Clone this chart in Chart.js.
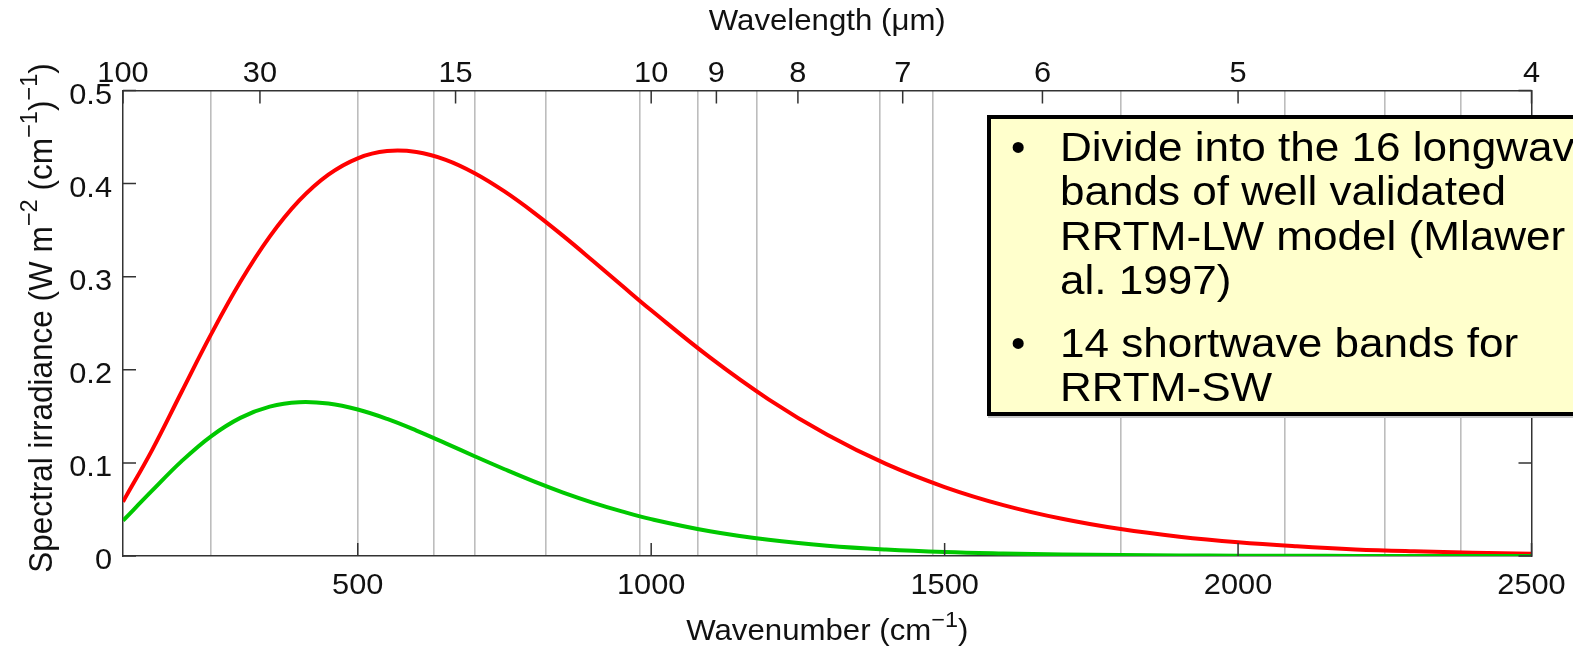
<!DOCTYPE html>
<html>
<head>
<meta charset="utf-8">
<title>Planck emission and RRTM longwave bands</title>
<script src="https://cdn.jsdelivr.net/npm/chart.js@4.4.1/dist/chart.umd.min.js"></script>
<style>
  html, body { margin: 0; padding: 0; background: #fff; overflow: hidden; }
  #wrap { position: relative; width: 1573px; height: 653px; overflow: hidden; }
  #plot { position: absolute; left: 0; top: 0; }
  #note {
    position: absolute; left: 987px; top: 115px; width: 660px; height: 301px;
    box-sizing: border-box; border: 4px solid #000; background: #ffffcc;
    box-shadow: 1px 2px 0 #c8c8c8;
    font-family: "Liberation Sans", Arial, Helvetica, sans-serif;
    font-size: 41px; line-height: 44.5px; color: #000; white-space: nowrap;
  }
  #note .item { position: absolute; left: 0; }
  #note .bullet { position: absolute; left: 20px; top: 0; }
  #note .txt { position: absolute; left: 69px; top: 0; transform: scaleX(1.075); transform-origin: 0 0; }
</style>
</head>
<body>
<div id="wrap">
  <canvas id="plot" width="1573" height="653"></canvas>
  <div id="note">
    <div class="item" style="top:5.5px">
      <span class="bullet">•</span>
      <div class="txt">Divide into the 16 longwave<br>bands of well validated<br>RRTM-LW model (Mlawer et<br>al. 1997)</div>
    </div>
    <div class="item" style="top:201.5px">
      <span class="bullet">•</span>
      <div class="txt">14 shortwave bands for<br>RRTM-SW</div>
    </div>
  </div>
</div>
<script>
// Wavenumber samples (cm^-1) and spectral irradiance (W m^-2 (cm^-1)^-1)
const wavenumber = [100, 150, 200, 250, 300, 350, 400, 450, 500, 550, 600, 650, 700, 750, 800, 850, 900, 950, 1000,
                    1100, 1200, 1300, 1400, 1500, 1600, 1700, 1800, 1900, 2000, 2100, 2200, 2300, 2400, 2500];
const emissionWarm = [0.0583, 0.1143, 0.1764, 0.2380, 0.2945, 0.3430, 0.3816, 0.4096, 0.4272, 0.4349, 0.4339, 0.4255,
                      0.4109, 0.3916, 0.3689, 0.3438, 0.3174, 0.2905, 0.2639,
                      0.2133, 0.1683, 0.1302, 0.0989, 0.0741, 0.0547, 0.0400, 0.0289, 0.0207, 0.0147, 0.0104,
                      0.0071, 0.0050, 0.0035, 0.0024];
const emissionCold = [0.0380, 0.0704, 0.1019, 0.1286, 0.1484, 0.1604, 0.1652, 0.1637, 0.1573, 0.1472, 0.1347, 0.1210,
                      0.1069, 0.0932, 0.0801, 0.0681, 0.0574, 0.0479, 0.0396,
                      0.0266, 0.0174, 0.0111, 0.0070, 0.0043, 0.0027, 0.0016, 0.0010, 0.0006, 0.0003, 0.0002,
                      0.0001, 0.0001, 0.0000, 0.0000];

// Axis ticks
const wavenumberTicks = [500, 1000, 1500, 2000, 2500];
const wavelengthTicks = [100, 30, 15, 10, 9, 8, 7, 6, 5, 4];   // micrometres, top axis
const irradianceTicks = [0, 0.1, 0.2, 0.3, 0.4, 0.5];
// RRTM-LW band boundaries inside the plotted range (cm^-1)
const bandEdges = [250, 500, 630, 700, 820, 980, 1080, 1180, 1390, 1480, 1800, 2080, 2250, 2380];

const FONT = '"Liberation Sans", Arial, Helvetica, sans-serif';
const AXIS = '#333333';
const TEXT = '#111111';
const SX = 1.06;          // slight horizontal widening of axis lettering
const TICK_LEN = 13;

function setTicks(values) {
  return scale => { scale.ticks = values.map(v => ({ value: v })); };
}

// Draw a run of text pieces, some raised as superscripts, centred on (0, 0) baseline
function drawRich(ctx, parts, size) {
  const supSize = size * 0.75;
  const widths = parts.map(([t, sup]) => {
    ctx.font = (sup ? supSize : size) + 'px ' + FONT;
    return ctx.measureText(t).width;
  });
  const total = widths.reduce((a, b) => a + b, 0);
  let x = -total / 2;
  ctx.textAlign = 'left';
  ctx.textBaseline = 'alphabetic';
  parts.forEach(([t, sup], i) => {
    ctx.font = (sup ? supSize : size) + 'px ' + FONT;
    ctx.fillText(t, x, sup ? -size * 0.45 : 0);
    x += widths[i];
  });
}

function stretchedLabel(ctx, text, x, y, align) {
  ctx.save();
  ctx.translate(x, y);
  ctx.scale(SX, 1);
  ctx.textAlign = align;
  ctx.textBaseline = 'alphabetic';
  ctx.fillText(text, 0, 0);
  ctx.restore();
}

const axisDecor = {
  id: 'axisDecor',
  afterDraw(chart) {
    const { ctx, chartArea: a, scales } = chart;
    ctx.save();

    // inward tick marks
    ctx.strokeStyle = AXIS;
    ctx.lineWidth = 1.5;
    ctx.beginPath();
    scales.x.ticks.forEach(t => {
      const px = scales.x.getPixelForValue(t.value);
      ctx.moveTo(px, a.bottom); ctx.lineTo(px, a.bottom - TICK_LEN);
    });
    scales.xTop.ticks.forEach(t => {
      const px = scales.xTop.getPixelForValue(t.value);
      ctx.moveTo(px, a.top); ctx.lineTo(px, a.top + TICK_LEN);
    });
    scales.y.ticks.forEach(t => {
      const py = scales.y.getPixelForValue(t.value);
      ctx.moveTo(a.left, py); ctx.lineTo(a.left + TICK_LEN, py);
      ctx.moveTo(a.right, py); ctx.lineTo(a.right - TICK_LEN, py);
    });
    ctx.stroke();

    // tick labels
    ctx.fillStyle = TEXT;
    ctx.font = '29px ' + FONT;
    scales.x.ticks.forEach(t => {
      stretchedLabel(ctx, t.label, scales.x.getPixelForValue(t.value), a.bottom + 37.5, 'center');
    });
    scales.xTop.ticks.forEach(t => {
      stretchedLabel(ctx, t.label, scales.xTop.getPixelForValue(t.value), a.top - 8.5, 'center');
    });
    scales.y.ticks.forEach(t => {
      stretchedLabel(ctx, t.label, a.left - 11, scales.y.getPixelForValue(t.value) + 13, 'right');
    });

    // axis titles
    const cx = (a.left + a.right) / 2;
    ctx.save();
    ctx.translate(cx, 640);
    ctx.scale(1.04, 1);
    drawRich(ctx, [['Wavenumber (cm', 0], ['\u22121', 1], [')', 0]], 30);
    ctx.restore();

    ctx.save();
    ctx.translate(cx, 30);
    ctx.scale(1.04, 1);
    drawRich(ctx, [['Wavelength (\u03bcm)', 0]], 30);
    ctx.restore();

    ctx.save();
    ctx.translate(52, 318);
    ctx.rotate(-Math.PI / 2);
    ctx.scale(1, 1.03);
    drawRich(ctx, [['Spectral irradiance (W m', 0], ['\u22122', 1], [' (cm', 0], ['\u22121', 1], [')', 0], ['\u22121', 1], [')', 0]], 31.5);
    ctx.restore();

    ctx.restore();
  }
};

const hiddenTicks = { display: false };
const noGrid = { display: false, drawTicks: false };

new Chart(document.getElementById('plot'), {
  type: 'line',
  data: {
    datasets: [
      {
        data: wavenumber.map((w, i) => ({ x: w, y: emissionWarm[i] })),
        borderColor: '#ff0000', borderWidth: 4, pointRadius: 0,
        tension: 0.4, order: 1,
        xAxisID: 'x', yAxisID: 'y'
      },
      {
        data: wavenumber.map((w, i) => ({ x: w, y: emissionCold[i] })),
        borderColor: '#00c800', borderWidth: 4, pointRadius: 0,
        tension: 0.4, order: 0,
        xAxisID: 'x', yAxisID: 'y'
      }
    ]
  },
  options: {
    responsive: false,
    animation: false,
    events: [],
    layout: { padding: { left: 123, top: 90.5, right: 41.5, bottom: 97 } },
    plugins: { legend: { display: false }, tooltip: { enabled: false } },
    scales: {
      x: {
        type: 'linear', position: 'bottom', min: 100, max: 2500,
        afterBuildTicks: setTicks(wavenumberTicks),
        ticks: { display: false, callback: v => String(v) },
        grid: noGrid,
        border: { display: true, color: AXIS, width: 1.5 }
      },
      bands: {
        type: 'linear', position: 'bottom', min: 100, max: 2500,
        afterBuildTicks: setTicks(bandEdges),
        ticks: hiddenTicks,
        grid: { display: true, drawTicks: false, color: '#bdbdbd', lineWidth: 1.6 },
        border: { display: false }
      },
      xTop: {
        type: 'linear', position: 'top', min: 100, max: 2500,
        afterBuildTicks: setTicks(wavelengthTicks.map(um => 10000 / um)),
        ticks: { display: false, callback: (v, i) => String(wavelengthTicks[i]) },
        grid: noGrid,
        border: { display: true, color: AXIS, width: 1.5 }
      },
      y: {
        type: 'linear', position: 'left', min: 0, max: 0.5,
        afterBuildTicks: setTicks(irradianceTicks),
        ticks: { display: false, callback: v => (v === 0 ? '0' : v.toFixed(1)) },
        grid: noGrid,
        border: { display: true, color: AXIS, width: 1.5 }
      },
      yRight: {
        type: 'linear', position: 'right', min: 0, max: 0.5,
        ticks: hiddenTicks,
        grid: noGrid,
        border: { display: true, color: AXIS, width: 1.5 }
      }
    }
  },
  plugins: [axisDecor]
});
</script>
</body>
</html>
